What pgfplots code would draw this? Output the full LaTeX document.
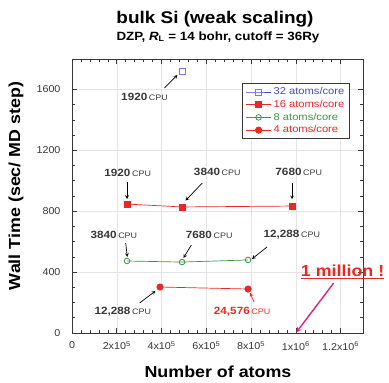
\documentclass[border=0pt]{standalone}
\usepackage{fontspec}
\setmainfont{Liberation Sans}[FakeStretch=1.12]
\newfontfamily\tickfont{Liberation Sans}[FakeStretch=1.08]
\usepackage{pgfplots}
\pgfplotsset{compat=1.18}
\definecolor{cblue}{RGB}{70,70,210}
\definecolor{cmarkblue}{RGB}{130,115,225}
\definecolor{cred}{RGB}{232,40,40}
\definecolor{cgreen}{RGB}{60,150,70}
\definecolor{cmag}{RGB}{232,30,120}
\definecolor{cgray}{RGB}{55,55,55}
\newcommand{\cpu}[1]{{\bfseries\fontsize{10.5}{12}\selectfont #1}\,{\fontsize{8}{10}\selectfont CPU}}
\begin{document}
\begin{tikzpicture}
\useasboundingbox (0,0) rectangle (389bp,383bp);
\begin{axis}[
  at={(72bp,50bp)}, anchor=south west,
  scale only axis, width=291bp, height=274bp,
  xmin=0, xmax=1300000, ymin=0, ymax=1800,
  scaled ticks=false,
  xtick={0,200000,400000,600000,800000,1000000,1200000},
  xticklabels={0,2x10\textsuperscript{5},4x10\textsuperscript{5},6x10\textsuperscript{5},8x10\textsuperscript{5},1x10\textsuperscript{6},1.2x10\textsuperscript{6}},
  ytick={0,400,800,1200,1600},
  /pgf/number format/1000 sep={},
  minor x tick num=4, minor y tick num=3,
  tick align=inside, major tick length=5bp, minor tick length=3bp,
  tick style={cgray, line width=0.6pt},
  axis line style={cgray, line width=0.9pt},
  grid=major, major grid style={black!10, line width=0.5pt},
  /pgf/number format/assume math mode=true,
  tick label style={font=\tickfont\fontsize{10}{12}\selectfont, text=cgray},
  xticklabel style={yshift=-5bp},
  yticklabel style={xshift=-8bp},
  clip=false,
  legend cell align=left,
  legend style={at={(0.955,0.912)}, anchor=north east, draw=cgray, line width=1.1pt,
    font=\fontsize{10}{12}\selectfont, inner xsep=3bp, inner ysep=2bp, row sep=0bp},
  legend image code/.code={\draw[mark repeat=2, mark phase=2, line width=0.7pt, #1] plot coordinates {(0cm,0cm) (0.45cm,0cm) (0.9cm,0cm)};},
]
\addplot[cblue, line width=0.7pt, mark=square, mark size=3bp, mark options={cmarkblue, line width=0.9pt}]
  coordinates {(491520,1715)};
\addlegendentry{\textcolor{cblue}{32 atoms/core}}
\addplot[cred, line width=0.7pt, mark=square*, mark size=3bp, mark options={cred}]
  coordinates {(245760,847) (491520,828) (983040,834)};
\addlegendentry{\textcolor{cred}{16 atoms/core}}
\addplot[cgreen, line width=0.7pt, mark=o, mark size=2.8bp, mark options={cgreen, line width=0.8pt, fill=white}]
  coordinates {(245760,473) (491520,466) (786432,480)};
\addlegendentry{\textcolor{cgreen}{8 atoms/core}}
\addplot[cred, line width=0.7pt, mark=*, mark size=3.2bp, mark options={cred}]
  coordinates {(393216,302) (786432,289)};
\addlegendentry{\textcolor{cred}{4 atoms/core}}

% annotations
\node[cgray] at (axis cs:324000,1550) {\cpu{1920}};
\draw[-stealth, line width=0.7pt] (axis cs:413000,1610) -- (axis cs:471000,1695);
\node[cgray] at (axis cs:249000,1051) {\cpu{1920}};
\draw[-stealth, line width=0.7pt] (axis cs:245760,992) -- (axis cs:245760,880);
\node[cgray] at (axis cs:649000,1058) {\cpu{3840}};
\draw[-stealth, line width=0.7pt] (axis cs:582000,985) -- (axis cs:507000,870);
\node[cgray] at (axis cs:1013000,1058) {\cpu{7680}};
\draw[-stealth, line width=0.7pt] (axis cs:983040,985) -- (axis cs:983040,878);
\node[cgray] at (axis cs:187000,644) {\cpu{3840}};
\draw[-stealth, line width=0.7pt] (axis cs:240000,591) -- (axis cs:247000,500);
\node[cgray] at (axis cs:613000,644) {\cpu{7680}};
\draw[-stealth, line width=0.7pt] (axis cs:533000,578) -- (axis cs:498000,493);
\node[cgray] at (axis cs:982000,644) {\cpu{12,288}};
\draw[-stealth, line width=0.7pt] (axis cs:871000,565) -- (axis cs:804000,486);
\node[cgray] at (axis cs:227000,138) {\cpu{12,288}};
\draw[-stealth, line width=0.7pt] (axis cs:302000,197) -- (axis cs:373000,276);
\node[cred] at (axis cs:760000,138) {\cpu{24,576}};
\draw[-stealth, cred, line width=0.7pt] (axis cs:813000,204) -- (axis cs:796000,263);
\node[cred, anchor=west, inner sep=0pt] at (axis cs:1022000,401) {\bfseries\fontsize{16}{18}\selectfont\underline{1 million !}};
\draw[-stealth, cmag, line width=1.4pt] (axis cs:1169000,328) -- (axis cs:1002000,4);
\end{axis}
\node at (215bp,364bp) {\bfseries\fontsize{17}{19}\selectfont bulk Si (weak scaling)};
\node at (218bp,346bp) {\bfseries\fontsize{12}{14}\selectfont DZP, \textit{R}\textsubscript{L} = 14 bohr, cutoff = 36Ry};
\node[rotate=90] at (16bp,197bp) {\bfseries\fontsize{16}{18}\selectfont Wall Time (sec/ MD step)};
\node at (218bp,11bp) {\bfseries\fontsize{16}{18}\selectfont Number of atoms};
\end{tikzpicture}
\end{document}
